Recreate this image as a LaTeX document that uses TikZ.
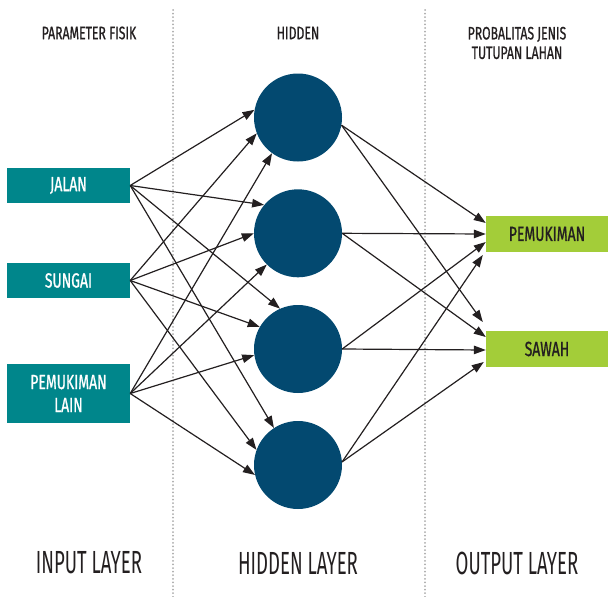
\documentclass[tikz,border=0pt]{standalone}
\usepackage{fontspec}
\usetikzlibrary{arrows.meta}
\setmainfont{Fira Sans}
\newfontfamily\headfont{Fira Sans}[FakeStretch=0.68,FakeBold=0.8]
\newfontfamily\boxfont{Fira Sans}[FakeStretch=0.68,FakeBold=0.9]
\newfontfamily\layerfont{Fira Sans}[FakeStretch=0.58]
\definecolor{teal}{RGB}{0,134,139}
\definecolor{navy}{RGB}{3,73,112}
\definecolor{lime}{RGB}{163,205,57}
\definecolor{ink}{RGB}{35,31,32}
\definecolor{dotgray}{RGB}{170,170,170}
\tikzset{
  inbox/.style={fill=teal, text=white, minimum width=123pt, align=center,
    inner sep=0pt, font=\boxfont\fontsize{20.5}{23}\selectfont},
  outbox/.style={fill=lime, text=ink, minimum width=122pt, minimum height=36pt,
    inner sep=0pt, font=\boxfont\fontsize{20.5}{22}\selectfont},
  neuron/.style={circle, fill=navy, minimum size=88pt, inner sep=0pt},
  head/.style={text=ink, align=center, font=\headfont\fontsize{18}{19.5}\selectfont},
  layer/.style={text=ink, font=\layerfont\fontsize{32}{32}\selectfont},
  link/.style={draw=ink, line width=1.2pt, -{Triangle[length=12pt,width=8.5pt]}},
  divider/.style={draw=dotgray, line width=2pt, line cap=round, dash pattern=on 0pt off 3.6pt}
}
\begin{document}
\begin{tikzpicture}[x=1pt,y=-1pt]
\useasboundingbox (0,0) rectangle (608,597);

% column dividers
\coordinate (d1t) at (173,10);
\coordinate (d1b) at (173,597);
\coordinate (d2t) at (425,10);
\coordinate (d2b) at (425,597);
\draw[divider] (d1t) -- (d1b);
\draw[divider] (d2t) -- (d2b);

% column headings
\node[head] (hin)  at (89,33) {PARAMETER FISIK};
\node[head] (hhid) at (298,33) {HIDDEN};
\node[head] (hout) at (517,43) {PROBALITAS JENIS\\TUTUPAN LAHAN};

% input layer
\node[inbox, minimum height=35pt] (in1) at (68.5,185.5) {JALAN};
\node[inbox, minimum height=35pt] (in2) at (68.5,280.5) {SUNGAI};
\node[inbox, minimum height=59pt] (in3) at (68.5,393.5) {PEMUKIMAN\\LAIN};

% hidden layer
\node[neuron] (h1) at (298,117.5) {};
\node[neuron] (h2) at (298,233.3) {};
\node[neuron] (h3) at (298,349) {};
\node[neuron] (h4) at (298,465) {};

% output layer
\node[outbox] (o1) at (547,234) {PEMUKIMAN};
\node[outbox] (o2) at (547,349) {SAWAH};

% input -> hidden
\draw[link] (in1.east) -- (h1.170);
\draw[link] (in2.east) -- (h1.201);
\draw[link] (in3.east) -- (h1.234);
\draw[link] (in1.east) -- (h2.140);
\draw[link] (in2.east) -- (h2.180);
\draw[link] (in3.east) -- (h2.225);
\draw[link] (in1.east) -- (h3.114);
\draw[link] (in2.east) -- (h3.150);
\draw[link] (in3.east) -- (h3.188);
\draw[link] (in1.east) -- (h4.123);
\draw[link] (in2.east) -- (h4.160);
\draw[link] (in3.east) -- (h4.193);

% hidden -> output
\draw[link] (h1.-10) -- ([yshift=11pt]o1.west);
\draw[link] (h2.0)   -- (o1.west);
\draw[link] (h3.0)   -- ([yshift=-8pt]o1.west);
\draw[link] (h4.4)   -- ([xshift=-3pt,yshift=-21pt]o1.west);
\draw[link] (h1.-10) -- ([xshift=-3pt,yshift=27pt]o2.west);
\draw[link] (h2.0)   -- ([yshift=12pt]o2.west);
\draw[link] (h3.0)   -- ([yshift=-1pt]o2.west);
\draw[link] (h4.4)   -- ([xshift=-2pt,yshift=-13pt]o2.west);

% layer captions
\node[layer] (lin)  at (89,563) {INPUT LAYER};
\node[layer] (lhid) at (298,563) {HIDDEN LAYER};
\node[layer] (lout) at (517,563) {OUTPUT LAYER};
\end{tikzpicture}
\end{document}
